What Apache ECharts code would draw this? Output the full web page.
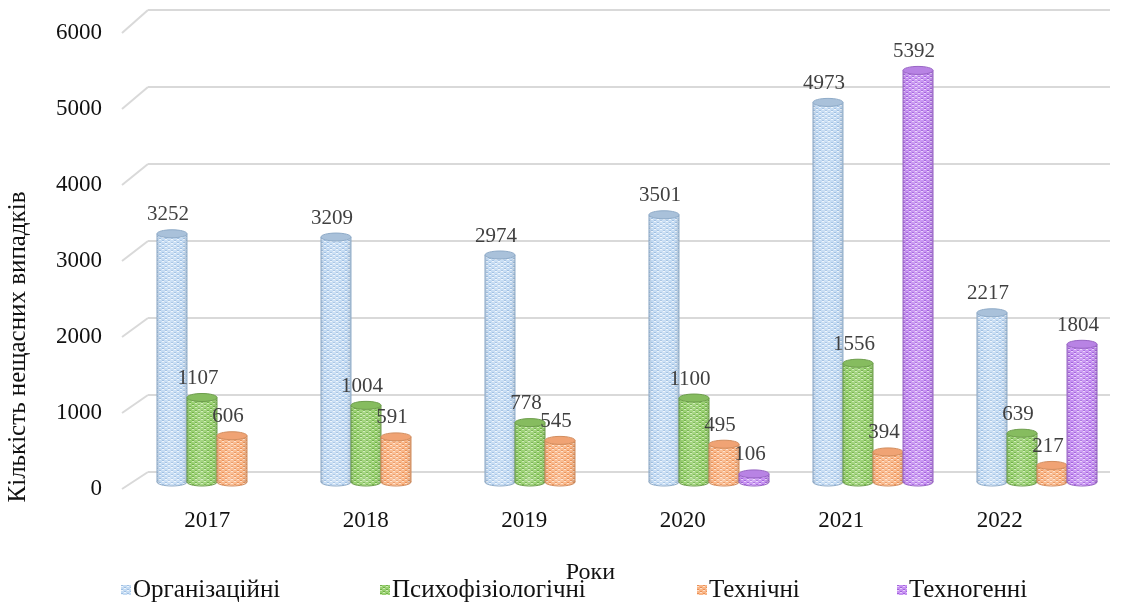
<!DOCTYPE html>
<html>
<head>
<meta charset="utf-8">
<script src="https://cdn.jsdelivr.net/npm/echarts@6/dist/echarts.min.js"></script>
<style>
html,body{margin:0;padding:0;background:#fff;}
#chart{width:1126px;height:603px;}
</style>
</head>
<body>
<div id="chart"></div>
<script>
const years = ['2017', '2018', '2019', '2020', '2021', '2022'];
const organizational = [3252, 3209, 2974, 3501, 4973, 2217];
const psychophysiological = [1107, 1004, 778, 1100, 1556, 639];
const technical = [606, 591, 545, 495, 394, 217];
const technogenic = [null, null, null, 106, 5392, 1804];
const seriesNames = ['Організаційні', 'Психофізіологічні', 'Технічні', 'Техногенні'];
const yAxisName = 'Кількість нещасних випадків';
const xAxisName = 'Роки';

const FONT = '"Liberation Serif", "Times New Roman", serif';

const palettes = [
  {base: '#c4dbf3', dot: '#9fbfe2', light: '#eef5fc', edge: '#8fabc8', top: '#a9c1da'},
  {base: '#98d070', dot: '#70ad49', light: '#cdebb3', edge: '#6e9e4d', top: '#86bc5f'},
  {base: '#f9b586', dot: '#e98f55', light: '#fde0cb', edge: '#d28d5e', top: '#f0a374'},
  {base: '#c690f2', dot: '#a062da', light: '#e8d0fb', edge: '#9865c4', top: '#b883e4'}
];

function makePattern(p) {
  const c = document.createElement('canvas');
  c.width = 6; c.height = 4;
  const ctx = c.getContext('2d');
  ctx.fillStyle = p.base; ctx.fillRect(0, 0, 6, 4);
  ctx.fillStyle = p.dot;
  ctx.fillRect(0, 0, 2, 1); ctx.fillRect(3, 2, 2, 1);
  ctx.fillStyle = p.light;
  ctx.fillRect(0, 1, 2, 1); ctx.fillRect(3, 3, 2, 1);
  return {image: c, repeat: 'repeat'};
}

const patterns = palettes.map(makePattern);

function makeRender(s) {
  const p = palettes[s];
  const pat = patterns[s];
  return function (params, api) {
    const cat = api.value(0), v = api.value(1);
    if (v == null || isNaN(v)) return;
    const top = api.coord([cat, v]);
    const base = api.coord([cat, 0]);
    const band = api.size([1, 0])[0];
    const w = band * 0.183;
    const cx = top[0] + (s - 1.5) * w;
    const x0 = cx - w / 2;
    const ry = 4;
    const h = base[1] - top[1];
    const shade = new echarts.graphic.LinearGradient(0, 0, 1, 0, [
      {offset: 0, color: 'rgba(0,0,0,0.12)'},
      {offset: 0.15, color: 'rgba(255,255,255,0.0)'},
      {offset: 0.45, color: 'rgba(255,255,255,0.15)'},
      {offset: 0.8, color: 'rgba(255,255,255,0.0)'},
      {offset: 1, color: 'rgba(0,0,0,0.14)'}
    ]);
    return {
      type: 'group',
      children: [
        {type: 'ellipse', shape: {cx: cx, cy: base[1], rx: w / 2, ry: ry}, style: {fill: pat, stroke: p.edge, lineWidth: 1}},
        {type: 'rect', shape: {x: x0, y: top[1], width: w, height: h}, style: {fill: pat}},
        {type: 'rect', shape: {x: x0, y: top[1], width: w, height: h}, style: {fill: shade}},
        {type: 'ellipse', shape: {cx: cx, cy: base[1], rx: w / 2, ry: ry}, style: {fill: shade}},
        {type: 'line', shape: {x1: x0, y1: top[1], x2: x0, y2: base[1]}, style: {stroke: p.edge, lineWidth: 1}},
        {type: 'line', shape: {x1: x0 + w, y1: top[1], x2: x0 + w, y2: base[1]}, style: {stroke: p.edge, lineWidth: 1}},
        {type: 'ellipse', shape: {cx: cx, cy: top[1], rx: w / 2, ry: ry}, style: {fill: p.top, stroke: p.edge, lineWidth: 1}},
        {type: 'text', style: {x: cx - 4, y: top[1] - 19, text: String(v), align: 'center', verticalAlign: 'middle', fill: '#404040', font: '21px ' + FONT}}
      ]
    };
  };
}

function toData(arr) {
  return arr.map(function (v, i) { return [i, v == null ? '-' : v]; });
}

const valueArrays = [organizational, psychophysiological, technical, technogenic];
const legendLefts = [121, 380, 697, 897];

const chart = echarts.init(document.getElementById('chart'));

const option = {
  backgroundColor: '#ffffff',
  animation: false,
  textStyle: {fontFamily: FONT},
  grid: [
    {left: 135, right: 7, top: 24, bottom: 121},
    {left: 128, right: 47, top: 33, bottom: 114},
    {left: 148, right: 16, top: 10, bottom: 131}
  ],
  xAxis: [
    {gridIndex: 0, type: 'category', data: years, show: false},
    {gridIndex: 1, type: 'category', data: years, axisLine: {show: false}, axisTick: {show: false},
      axisLabel: {color: '#111', fontSize: 23, fontFamily: FONT, margin: 20},
      name: xAxisName, nameLocation: 'middle', nameGap: 72,
      nameTextStyle: {color: '#111', fontSize: 24, fontFamily: FONT, padding: [0, 26, 0, 0]}},
    {gridIndex: 2, type: 'value', show: false, min: 0, max: 1}
  ],
  yAxis: [
    {gridIndex: 0, type: 'value', min: 0, max: 6000, interval: 1000, show: false},
    {gridIndex: 1, type: 'value', min: 0, max: 6000, interval: 1000, axisLine: {show: false}, axisTick: {show: false},
      splitLine: {show: false},
      axisLabel: {color: '#111', fontSize: 23, fontFamily: FONT, margin: 26, formatter: function (v) { return String(v); }}},
    {gridIndex: 2, type: 'value', min: 0, max: 6000, interval: 1000, axisLine: {show: false}, axisTick: {show: false},
      axisLabel: {show: false}, splitLine: {show: true, lineStyle: {color: '#d9d9d9', width: 2}}}
  ],
  legend: seriesNames.map(function (n, i) {
    return {
      top: 577, left: legendLefts[i], itemWidth: 10, itemHeight: 10, itemGap: 0, padding: 0,
      icon: 'rect',
      textStyle: {color: '#111', fontSize: 25, lineHeight: 26, fontFamily: FONT, padding: [0, 0, 0, -3]},
      data: [n]
    };
  }),
  series: valueArrays.map(function (arr, s) {
    return {
      name: seriesNames[s],
      type: 'custom',
      xAxisIndex: 0, yAxisIndex: 0,
      renderItem: makeRender(s),
      itemStyle: {color: patterns[s]},
      encode: {x: 0, y: 1},
      data: toData(arr),
      z: 5
    };
  })
};

chart.setOption(option);

// decorative diagonal connectors between the label scale and the back-wall gridlines
const ticks = [0, 1000, 2000, 3000, 4000, 5000, 6000];
const deco = ticks.map(function (t) {
  const yf = chart.convertToPixel({yAxisIndex: 1}, t);
  const yb = chart.convertToPixel({yAxisIndex: 2}, t);
  const xb = chart.convertToPixel({xAxisIndex: 2}, 0);
  return {type: 'line', z: 0, shape: {x1: xb - 26, y1: yf, x2: xb, y2: yb}, style: {stroke: '#d9d9d9', lineWidth: 2}};
});
deco.push({
  type: 'text', z: 10, x: 18, y: 347, rotation: Math.PI / 2,
  style: {text: yAxisName, align: 'center', verticalAlign: 'middle', fill: '#111', font: '25px ' + FONT}
});
chart.setOption({graphic: deco});
</script>
</body>
</html>
